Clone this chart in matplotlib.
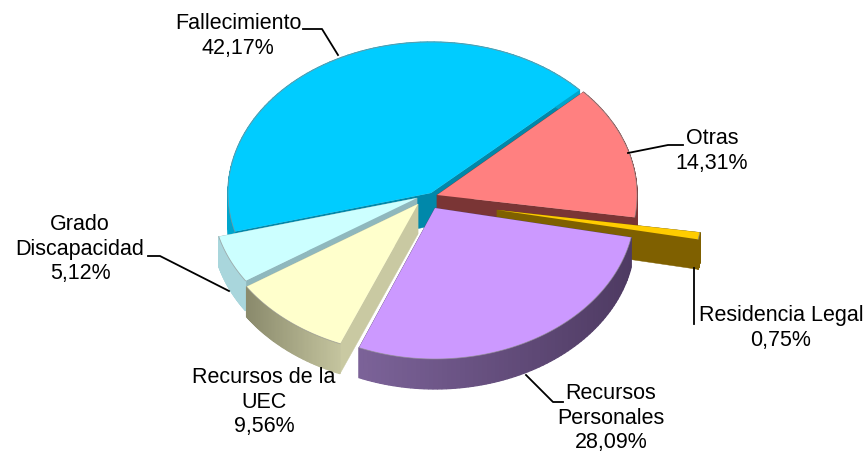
"""Exploded 3D-style pie of causes, drawn as flat polygons."""

import numpy as np
import matplotlib

matplotlib.use("Agg")
import matplotlib.pyplot as plt
from matplotlib.patches import Polygon

plt.rcParams["font.family"] = ["Liberation Sans", "DejaVu Sans"]

# data, in clockwise order from the start angle
names = ["Otras", "Residencia\u00a0Legal", "Recursos\nPersonales", "Recursos de la\nUEC", "Grado\nDiscapacidad", "Fallecimiento"]
values = [14.31, 0.75, 28.09, 9.56, 5.12, 42.17]

# style
top_colors = ["#FF8080", "#FFCC00", "#CC99FF", "#FFFFCC", "#CCFFFF", "#00CCFF"]
cut_colors = ["#7A3535", "#7F6000", "#5B4470", "#C9C9A2", "#8FB8BD", "#0088AA"]
rim_left = ["#7A3535", "#7F6000", "#7C6399", "#8A8A6C", "#A9D6DC", "#00A5CC"]
rim_right = ["#7A3535", "#7F6000", "#4E3A62", "#C4C49E", "#A9D6DC", "#00A5CC"]

# layout, pixels
START_ANGLE = 43.0
RY, DEPTH = 151.0, 30.0
radii_x = [200, 205, 200, 205, 205, 203]
depths = [DEPTH, DEPTH, DEPTH, DEPTH, DEPTH, DEPTH + 3]
apexes = [(437, 195), (497, 210), (435, 208), (418, 204), (417, 198), (431, 193)]
draw_order = [5, 0, 1, 2, 4, 3]
label_pos = [(712, 151), (781, 328), (611, 418), (264, 402), (80, 249), (238, 36)]
leaders = [
    [(683, 145), (668, 145), (628, 153)],
    [(694, 268), (694, 324)],
    [(526, 375), (553, 402), (563, 402)],
    None,
    [(148, 256), (160, 256), (229, 291)],
    [(303, 29), (322, 29), (338, 55)],
]


def rim_point(apex, rx, angle):
    return (apex[0] + rx * np.cos(angle), apex[1] - RY * np.sin(angle))


def draw_slice(ax, apex, a0, a1, i):
    angles = np.linspace(a0, a1, 80)
    edge = [rim_point(apex, radii_x[i], a) for a in angles]
    depth = depths[i]

    # cut faces first, then the outer rim, then the top
    for end in (edge[0], edge[-1]):
        face = [apex, end, (end[0], end[1] + depth), (apex[0], apex[1] + depth)]
        ax.add_patch(Polygon(face, closed=True, fc=cut_colors[i], ec=cut_colors[i], lw=0.3))

    left = np.array(matplotlib.colors.to_rgb(rim_left[i]))
    right = np.array(matplotlib.colors.to_rgb(rim_right[i]))
    xs = [p[0] for p in edge]
    span = max(xs) - min(xs)
    for p, q in zip(edge[:-1], edge[1:]):
        t = (p[0] - min(xs)) / span
        col = left + (right - left) * t
        quad = [p, q, (q[0], q[1] + depth), (p[0], p[1] + depth)]
        ax.add_patch(Polygon(quad, closed=True, fc=col, ec=col, lw=0.9))

    ax.add_patch(Polygon([apex] + edge, closed=True, fc=top_colors[i], ec="none"))
    ax.plot([p[0] for p in edge], [p[1] for p in edge], color="#909090", lw=0.6, alpha=0.7)


fig = plt.figure(figsize=(8.66, 4.54), dpi=100)
ax = fig.add_axes([0, 0, 1, 1])
ax.set_xlim(0, 866)
ax.set_ylim(454, 0)
ax.axis("off")

total = sum(values)
sweeps = np.radians(np.array(values) / total * 360.0)
ends = np.radians(START_ANGLE) - np.cumsum(sweeps)
starts = ends + sweeps

for i in draw_order:
    draw_slice(ax, apexes[i], starts[i], ends[i], i)

for i, name in enumerate(names):
    pct = f"{values[i]:.2f}".replace(".", ",") + "%"
    ax.text(*label_pos[i], f"{name}\n{pct}", ha="center", va="center", ma="center",
            fontsize=15.5, color="black", linespacing=1.24)
    if leaders[i]:
        ax.plot([p[0] for p in leaders[i]], [p[1] for p in leaders[i]], color="black", lw=1.3)

fig.savefig("out.png", dpi=100, facecolor="white")
